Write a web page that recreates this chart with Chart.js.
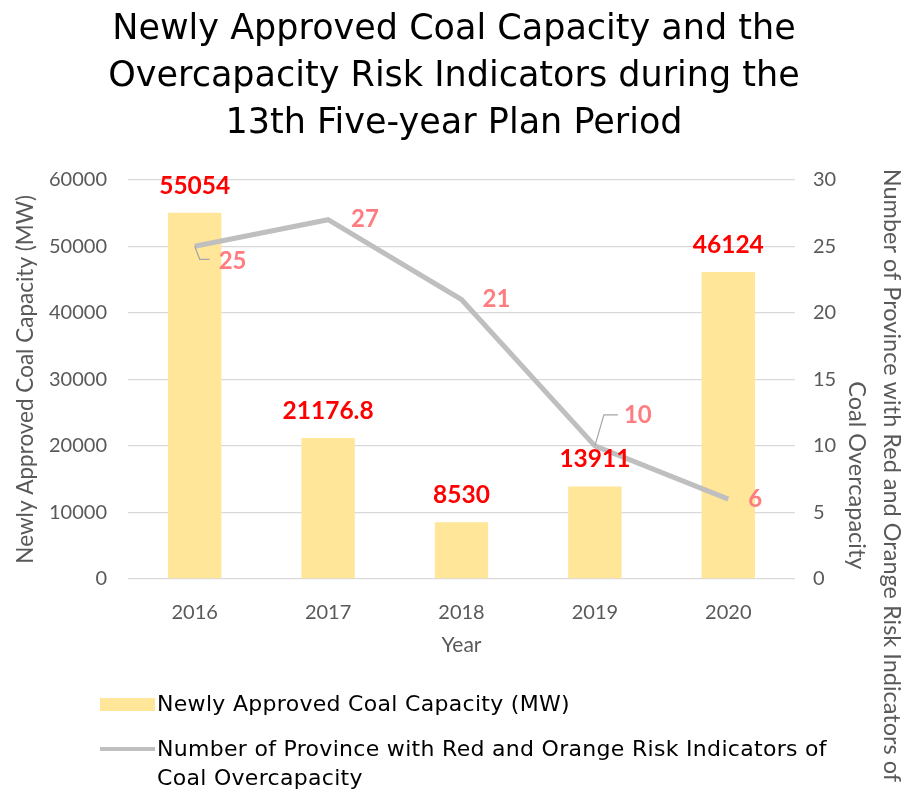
<!DOCTYPE html>
<html>
<head>
<meta charset="utf-8">
<script src="https://cdn.jsdelivr.net/npm/chart.js@4.4.0/dist/chart.umd.min.js"></script>
<style>
  body { margin: 0; background: #fff; }
  #wrap { position: relative; width: 908px; height: 798px; }
  #legend { position: absolute; left: 100px; top: 689px; font-family: "DejaVu Sans"; font-size: 22px; letter-spacing: 0.3px; color: #000; }
  .item { display: flex; align-items: flex-start; margin-bottom: 16px; }
  .swatch { width: 55px; flex: none; margin-right: 2px; }
  .txt { line-height: 29px; width: 685px; }
</style>
</head>
<body>
<div id="wrap">
  <canvas id="myChart" width="908" height="798"></canvas>
  <div id="legend"></div>
</div>
<script>
const years = ['2016', '2017', '2018', '2019', '2020'];
const capacityMW = [55054, 21176.8, 8530, 13911, 46124];
const riskProvinces = [25, 27, 21, 10, 6];
const capacityTicks = [0, 10000, 20000, 30000, 40000, 50000, 60000];
const riskTicks = [0, 5, 10, 15, 20, 25, 30];

const barLabel = 'Newly Approved Coal Capacity (MW)';
const lineLabel = 'Number of Province with Red and Orange Risk Indicators of Coal Overcapacity';
const barColor = '#FFE699';
const lineColor = '#BFBFBF';
const axisGray = '#595959';

// label placement for the line values: dx, dy from the point, optional leader line
const lineLabelPos = [
  { dx: 24, dy: 15, leader: [[5, 13], [15, 13]] },
  { dx: 23, dy: 0 },
  { dx: 21, dy: 0 },
  { dx: 29, dy: -31, leader: [[9, -31], [23, -31]] },
  { dx: 20, dy: 0 }
];

const valueLabels = {
  id: 'valueLabels',
  afterDatasetsDraw(chart) {
    const ctx = chart.ctx;
    ctx.save();
    ctx.textBaseline = 'middle';

    // line labels
    chart.getDatasetMeta(1).data.forEach((pt, i) => {
      const p = lineLabelPos[i];
      if (p.leader) {
        ctx.strokeStyle = '#A6A6A6';
        ctx.lineWidth = 1.2;
        ctx.beginPath();
        ctx.moveTo(pt.x, pt.y);
        p.leader.forEach(l => ctx.lineTo(pt.x + l[0], pt.y + l[1]));
        ctx.stroke();
      }
      ctx.font = 'bold 24px Lato';
      ctx.fillStyle = '#FF7C80';
      ctx.textAlign = 'left';
      ctx.fillText(String(riskProvinces[i]), pt.x + p.dx, pt.y + p.dy);
    });

    // bar labels
    ctx.font = 'bold 24.5px Lato';
    ctx.fillStyle = '#FF0000';
    ctx.textAlign = 'center';
    chart.getDatasetMeta(0).data.forEach((bar, i) => {
      ctx.fillText(String(capacityMW[i]), bar.x, bar.y - 27);
    });
    ctx.restore();
  }
};

const rightTitle = {
  id: 'rightTitle',
  afterDraw(chart) {
    const ctx = chart.ctx;
    const s = chart.scales.y1;
    const midY = (chart.chartArea.top + chart.chartArea.bottom) / 2;
    ctx.save();
    ctx.font = '23.5px Lato';
    ctx.fillStyle = axisGray;
    ctx.textAlign = 'center';
    ctx.textBaseline = 'middle';
    [[s.right - 16, midY + 96, 'Number of Province with Red and Orange Risk Indicators of'],
     [s.right - 51, midY + 96, 'Coal Overcapacity']].forEach(([x, y, t]) => {
      ctx.save();
      ctx.translate(x, y);
      ctx.rotate(Math.PI / 2);
      ctx.fillText(t, 0, 0);
      ctx.restore();
    });
    ctx.restore();
  }
};

const myChart = new Chart('myChart', {
  type: 'bar',
  data: {
    labels: years,
    datasets: [{
      type: 'bar',
      label: barLabel,
      data: capacityMW,
      backgroundColor: barColor,
      yAxisID: 'y',
      barPercentage: 0.4,
      categoryPercentage: 1,
      order: 1
    }, {
      type: 'line',
      label: lineLabel,
      data: riskProvinces,
      borderColor: lineColor,
      borderWidth: 5,
      pointRadius: 0,
      tension: 0,
      yAxisID: 'y1',
      order: 0
    }]
  },
  options: {
    responsive: false,
    animation: false,
    layout: { padding: { left: 0, right: 0, top: 0, bottom: 129 } },
    plugins: {
      legend: { display: false },
      tooltip: { enabled: false },
      title: {
        display: true,
        text: ['Newly Approved Coal Capacity and the', 'Overcapacity Risk Indicators during the', '13th Five-year Plan Period'],
        font: { family: 'DejaVu Sans', size: 35, weight: 'normal', lineHeight: 1.35 },
        color: '#000',
        padding: { top: 6, bottom: 32 }
      }
    },
    scales: {
      x: {
        grid: { display: false },
        border: { display: false },
        ticks: { color: axisGray, font: { family: 'Lato', size: 20 }, padding: 14 },
        title: { display: true, text: 'Year', color: axisGray, font: { family: 'Lato', size: 21 }, padding: { top: 0, bottom: 11 } },
        afterFit(s) { s.height = 90; }
      },
      y: {
        position: 'left',
        min: 0, max: 60000,
        afterBuildTicks(s) { s.ticks = capacityTicks.map(v => ({ value: v })); },
        grid: { color: '#D9D9D9', lineWidth: 1.3, drawTicks: false },
        border: { display: false },
        ticks: { color: axisGray, font: { family: 'Lato', size: 20 }, padding: 21, callback: v => String(v) },
        title: { display: true, text: barLabel, color: axisGray, font: { family: 'Lato', size: 22.5 }, padding: { top: 12, bottom: 0 } },
        afterFit(s) { s.width = 128; }
      },
      y1: {
        position: 'right',
        min: 0, max: 30,
        afterBuildTicks(s) { s.ticks = riskTicks.map(v => ({ value: v })); },
        grid: { display: false, drawTicks: false },
        border: { display: false },
        ticks: { color: axisGray, font: { family: 'Lato', size: 20 }, padding: 18, callback: v => String(v) },
        afterFit(s) { s.width = 113; }
      }
    }
  },
  plugins: [valueLabels, rightTitle]
});

// html legend built from the chart datasets
const legend = document.getElementById('legend');
myChart.data.datasets.forEach(ds => {
  const row = document.createElement('div');
  row.className = 'item';
  const sw = document.createElement('div');
  sw.className = 'swatch';
  if (ds.type === 'bar') {
    sw.style.height = '13px';
    sw.style.marginTop = '9px';
    sw.style.background = ds.backgroundColor;
  } else {
    sw.style.height = '4px';
    sw.style.marginTop = '13px';
    sw.style.background = ds.borderColor;
  }
  const t = document.createElement('div');
  t.className = 'txt';
  t.textContent = ds.label;
  row.appendChild(sw);
  row.appendChild(t);
  legend.appendChild(row);
});
</script>
</body>
</html>
